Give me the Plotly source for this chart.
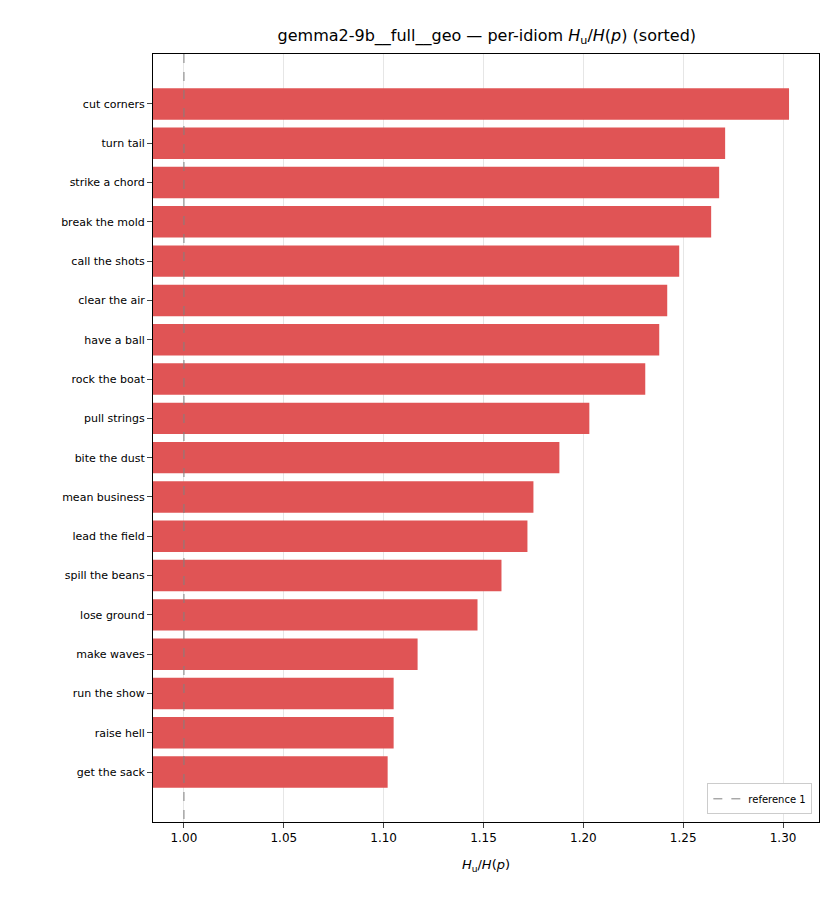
import plotly.graph_objects as go

idioms = ["cut corners", "turn tail", "strike a chord", "break the mold", "call the shots",
          "clear the air", "have a ball", "rock the boat", "pull strings", "bite the dust",
          "mean business", "lead the field", "spill the beans", "lose ground", "make waves",
          "run the show", "raise hell", "get the sack"]
ratio = [1.303, 1.271, 1.268, 1.264, 1.248, 1.242, 1.238, 1.231, 1.203, 1.188,
         1.175, 1.172, 1.159, 1.147, 1.117, 1.105, 1.105, 1.102]
reference = 1.0
xticks = [1.00, 1.05, 1.10, 1.15, 1.20, 1.25, 1.30]

fig = go.Figure()
fig.add_trace(go.Bar(
    x=ratio, y=list(range(len(idioms))), orientation="h",
    marker=dict(color="#e05455", line=dict(width=0)), width=0.8,
    showlegend=False,
))
fig.add_trace(go.Scatter(
    x=[reference, reference], y=[-1.27, len(idioms) + 0.27], mode="lines",
    line=dict(color="gray", width=1, dash="dash"), name="reference 1",
))

fig.update_layout(
    width=840, height=910,
    margin=dict(l=145, r=29, t=46, b=96),
    paper_bgcolor="white", plot_bgcolor="white",
    font=dict(family="DejaVu Sans", color="black"),
    title=dict(text="gemma2-9b__full__geo — per-idiom <i>H</i><sub>u</sub>/<i>H</i>(<i>p</i>) (sorted)",
               x=0.57, xanchor="center", y=0.970, yanchor="middle", font=dict(size=16)),
    xaxis=dict(range=[0.9845, 1.318], tickvals=xticks, ticktext=[f"{v:.2f}" for v in xticks],
               showgrid=True, gridcolor="#e6e6e6", zeroline=False,
               showline=True, linecolor="black", mirror=True, ticks="outside",
               tickfont=dict(size=12),
               title=dict(text="<i>H</i><sub>u</sub>/<i>H</i>(<i>p</i>)", font=dict(size=13))),
    yaxis=dict(range=[len(idioms) + 0.27, -1.27], tickvals=list(range(len(idioms))),
               ticktext=idioms, showgrid=False, zeroline=False,
               showline=True, linecolor="black", mirror=True, ticks="outside",
               tickfont=dict(size=11)),
    legend=dict(x=0.99, y=0.01, xanchor="right", yanchor="bottom",
                bordercolor="#cccccc", borderwidth=1, bgcolor="white",
                font=dict(size=10)),
)

fig.write_html("out.html")
